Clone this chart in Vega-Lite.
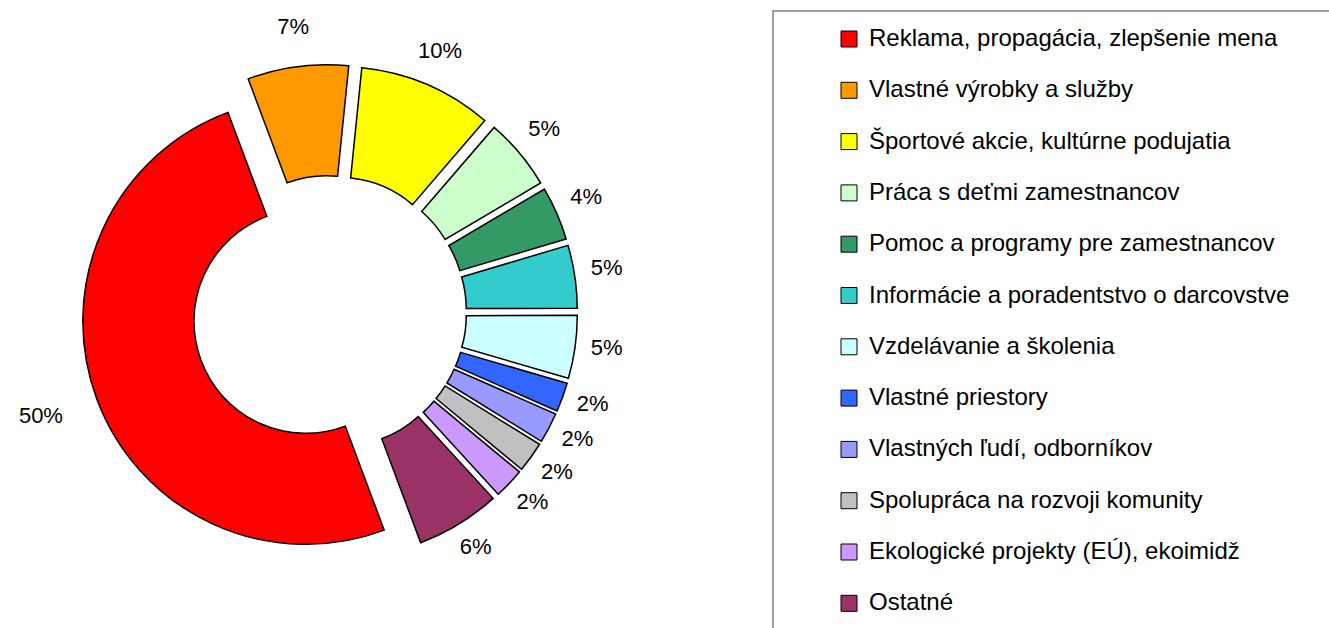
{
  "$schema": "https://vega.github.io/schema/vega-lite/v6.json",
  "width": 659,
  "height": 625,
  "padding": {"left": 0, "top": 0, "right": 670, "bottom": 3},
  "autosize": {"type": "none"},
  "config": {"view": {"stroke": null}, "font": "Liberation Sans", "legend": {"strokeWidth": 1.5}},
  "data": {
    "values": [
      {"idx": 1, "category": "Reklama, propagácia, zlepšenie mena", "share": 0.5},
      {"idx": 2, "category": "Vlastné výrobky a služby", "share": 0.073},
      {"idx": 3, "category": "Športové akcie, kultúrne podujatia", "share": 0.097},
      {"idx": 4, "category": "Práca s deťmi zamestnancov", "share": 0.052},
      {"idx": 5, "category": "Pomoc a programy pre zamestnancov", "share": 0.039},
      {"idx": 6, "category": "Informácie a poradentstvo o darcovstve", "share": 0.0455},
      {"idx": 7, "category": "Vzdelávanie a školenia", "share": 0.0455},
      {"idx": 8, "category": "Vlastné priestory", "share": 0.021},
      {"idx": 9, "category": "Vlastných ľudí, odborníkov", "share": 0.022},
      {"idx": 10, "category": "Spolupráca na rozvoji komunity", "share": 0.022},
      {"idx": 11, "category": "Ekologické projekty (EÚ), ekoimidž", "share": 0.022},
      {"idx": 12, "category": "Ostatné", "share": 0.061}
    ]
  },
  "encoding": {
    "theta": {"field": "share", "type": "quantitative", "stack": true, "scale": {"range": [2.7838, 9.0670]}},
    "order": {"field": "idx", "type": "quantitative", "sort": "ascending"}
  },
  "layer": [
    {
      "mark": {
        "type": "arc",
        "outerRadius": 223,
        "innerRadius": 112,
        "stroke": "black",
        "strokeWidth": 1.5,
        "xOffset": {"expr": "25*sin((scale('theta', datum.share_start)+scale('theta', datum.share_end))/2)"},
        "yOffset": {"expr": "-25*cos((scale('theta', datum.share_start)+scale('theta', datum.share_end))/2)"}
      },
      "encoding": {
        "color": {
          "field": "category",
          "type": "nominal",
          "scale": {
            "domain": ["Reklama, propagácia, zlepšenie mena", "Vlastné výrobky a služby", "Športové akcie, kultúrne podujatia", "Práca s deťmi zamestnancov", "Pomoc a programy pre zamestnancov", "Informácie a poradentstvo o darcovstve", "Vzdelávanie a školenia", "Vlastné priestory", "Vlastných ľudí, odborníkov", "Spolupráca na rozvoji komunity", "Ekologické projekty (EÚ), ekoimidž", "Ostatné"],
            "range": ["#FF0000", "#FF9900", "#FFFF00", "#CCFFCC", "#339966", "#33CCCC", "#CCFFFF", "#3366FF", "#9999FF", "#C0C0C0", "#CC99FF", "#993366"]
          },
          "legend": {
            "orient": "none",
            "legendX": 773,
            "legendY": 11,
            "title": "\u00a0",
            "titleOrient": "right",
            "titlePadding": 30,
            "titleFontSize": 12,
            "symbolType": "square",
            "symbolSize": 256,
            "symbolStrokeColor": "black",
            "symbolStrokeWidth": 1,
            "labelFontSize": 24,
            "labelFont": "Liberation Sans",
            "labelColor": "black",
            "rowPadding": 27.3,
            "padding": 16,
            "strokeColor": "#808080",
            "symbolOffset": 48,
            "labelOffset": 8,
            "labelLimit": 600
          }
        }
      }
    },
    {
      "mark": {
        "type": "text",
        "fontSize": 22,
        "font": "Liberation Sans",
        "radius": {"expr": "255 + 30*max(0, -sin((scale('theta', datum.share_start)+scale('theta', datum.share_end))/2))"},
        "xOffset": {"expr": "25*sin((scale('theta', datum.share_start)+scale('theta', datum.share_end))/2)"},
        "yOffset": {"expr": "-25*cos((scale('theta', datum.share_start)+scale('theta', datum.share_end))/2) - 4"}
      },
      "encoding": {
        "detail": {"field": "category", "type": "nominal"},
        "text": {"field": "share", "type": "quantitative", "format": ".0%"},
        "color": {"value": "black"}
      }
    }
  ]
}
